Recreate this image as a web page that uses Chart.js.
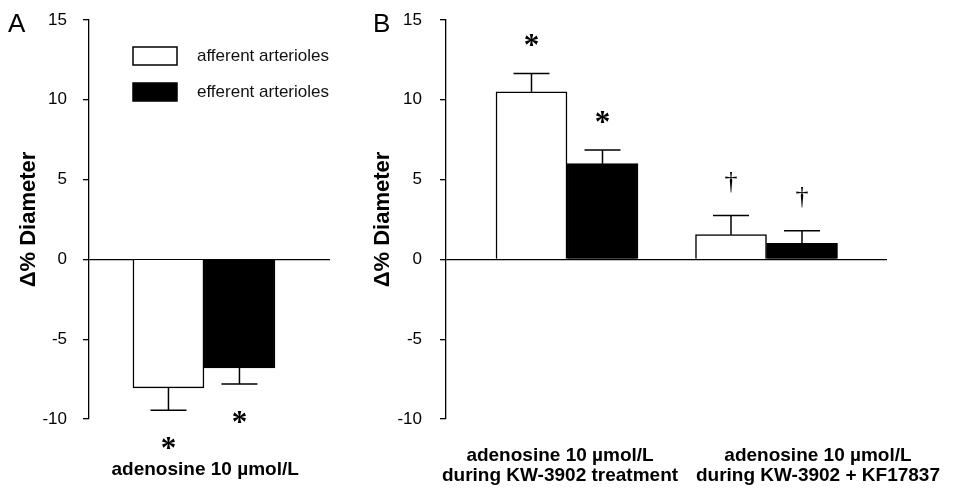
<!DOCTYPE html>
<html>
<head>
<meta charset="utf-8">
<script src="https://cdn.jsdelivr.net/npm/chart.js@4.4.1/dist/chart.umd.min.js"></script>
<style>
  html, body { margin: 0; padding: 0; background: #fff; }
  #wrap { position: relative; width: 959px; height: 489px; overflow: hidden; }
  canvas { position: absolute; top: 0; }
  .panel { position: absolute; top: 10px; font: 26px "Liberation Sans", Arial, sans-serif; line-height: 26px; color: #000; }
</style>
</head>
<body>
<div id="wrap">
  <canvas id="chart-a" width="340" height="489" style="left:0"></canvas>
  <canvas id="chart-b" width="619" height="489" style="left:340px"></canvas>
  <div class="panel" style="left:8px">A</div>
  <div class="panel" style="left:373px">B</div>
</div>
<script>
"use strict";

// Data
var seriesNames = ["afferent arterioles", "efferent arterioles"];
var categoriesA = ["adenosine 10 µmol/L"];
var categoriesB = [
  ["adenosine 10 µmol/L", "during KW-3902 treatment"],
  ["adenosine 10 µmol/L", "during KW-3902 + KF17837"]
];
var afferentA = [-8.05];
var afferentErrA = [1.4];
var efferentA = [-6.8];
var efferentErrA = [1.0];
var afferentB = [10.5, 1.55];
var afferentErrB = [1.15, 1.2];
var efferentB = [6.0, 1.0];
var efferentErrB = [0.85, 0.8];
var marksAfferentA = ["*"];
var marksEfferentA = ["*"];
var marksAfferentB = ["*", "\u2020"];
var marksEfferentB = ["*", "\u2020"];
var yMin = -10, yMax = 15, yStep = 5;
var yTitle = "\u0394% Diameter";

var SANS = '"Liberation Sans", Arial, Helvetica, sans-serif';
var SERIF = '"Liberation Serif", "Times New Roman", serif';

function points(values){
  return values.map(function(v, i){ return {x: i, y: v}; });
}

// error bars + significance marks
var errorBarPlugin = {
  id: "errorBars",
  afterDatasetsDraw: function(chart){
    var ctx = chart.ctx;
    var yScale = chart.scales.y;
    ctx.save();
    chart.data.datasets.forEach(function(ds, d){
      var meta = chart.getDatasetMeta(d);
      meta.data.forEach(function(bar, i){
        var v = ds.data[i].y;
        var dir = v < 0 ? -1 : 1;
        var yEnd = yScale.getPixelForValue(v + dir * ds.errors[i]);
        ctx.strokeStyle = "#000";
        ctx.lineWidth = 1.5;
        ctx.beginPath();
        ctx.moveTo(bar.x, bar.y);
        ctx.lineTo(bar.x, yEnd);
        ctx.moveTo(bar.x - 18, yEnd);
        ctx.lineTo(bar.x + 18, yEnd);
        ctx.stroke();

        var mark = ds.marks[i];
        if (!mark) return;
        ctx.fillStyle = "#000";
        ctx.textAlign = "center";
        ctx.textBaseline = "alphabetic";
        ctx.font = mark === "*" ? "bold 31px " + SERIF : "26px " + SERIF;
        var m = ctx.measureText(mark);
        var cy = yEnd - dir * 33;
        ctx.fillText(mark, bar.x, cy + (m.actualBoundingBoxAscent - m.actualBoundingBoxDescent) / 2);
      });
    });
    ctx.restore();
  }
};

// legend boxes drawn inside panel A
var boxLegendPlugin = {
  id: "boxLegend",
  afterDraw: function(chart, args, opts){
    if (!opts.show) return;
    var ctx = chart.ctx;
    var area = chart.chartArea;
    ctx.save();
    chart.data.datasets.forEach(function(ds, i){
      var x = area.left + 44;
      var y = area.top + 27 + i * 36;
      ctx.fillStyle = ds.backgroundColor;
      ctx.fillRect(x, y, 44, 18);
      ctx.strokeStyle = "#000";
      ctx.lineWidth = 1.5;
      ctx.strokeRect(x, y, 44, 18);
      ctx.fillStyle = "#111";
      ctx.font = "17px " + SANS;
      ctx.textAlign = "left";
      ctx.textBaseline = "middle";
      ctx.fillText(ds.label, x + 64, y + 9);
    });
    ctx.restore();
  }
};

function barChart(id, p){
  var ctx = document.getElementById(id);
  return new Chart(ctx, {
    type: "bar",
    data: {
      datasets: [{
        label: seriesNames[0],
        data: points(p.afferent),
        errors: p.afferentErr,
        marks: p.afferentMarks,
        backgroundColor: "#fff",
        borderColor: "#000",
        borderWidth: 1.5
      }, {
        label: seriesNames[1],
        data: points(p.efferent),
        errors: p.efferentErr,
        marks: p.efferentMarks,
        backgroundColor: "#000",
        borderColor: "#000",
        borderWidth: 1.5
      }]
    },
    options: {
      responsive: false,
      animation: false,
      barThickness: 71,
      layout: { padding: { top: 20, right: p.padRight, bottom: 0, left: 0 } },
      plugins: {
        legend: { display: false },
        tooltip: { enabled: false },
        boxLegend: { show: p.legend }
      },
      scales: {
        x: {
          type: "linear",
          min: p.xMin,
          max: p.xMax,
          offset: false,
          grid: { display: false, drawTicks: false },
          border: { display: false },
          afterBuildTicks: function(scale){
            scale.ticks = p.labelAt.map(function(v){ return {value: v}; });
          },
          afterFit: function(scale){
            scale.height = 70;
            scale.paddingLeft = 0;
            scale.paddingRight = 0;
          },
          ticks: {
            autoSkip: false,
            maxRotation: 0,
            padding: p.labelPad,
            color: "#000",
            font: { family: SANS, size: 19, weight: "bold", lineHeight: 1.05 },
            callback: function(value, index){ return p.categories[index]; }
          }
        },
        y: {
          min: yMin,
          max: yMax,
          afterFit: function(scale){
            scale.width = p.axisLeft;
            scale.paddingTop = 0;
            scale.paddingBottom = 0;
          },
          border: { display: true, color: "#000", width: 1.3 },
          grid: {
            color: function(c){ return c.tick && c.tick.value === 0 ? "#000" : "rgba(0,0,0,0)"; },
            lineWidth: 1.3,
            tickColor: "#000",
            tickLength: 6
          },
          ticks: {
            stepSize: yStep,
            padding: p.tickPad,
            color: "#000",
            font: { family: SANS, size: 17 }
          },
          title: {
            display: true,
            text: yTitle,
            color: "#000",
            font: { family: SANS, size: 22, weight: "bold" },
            padding: { top: p.titlePad, bottom: 0 }
          }
        }
      }
    },
    plugins: [errorBarPlugin, boxLegendPlugin]
  });
}

barChart("chart-a", {
  categories: categoriesA,
  afferent: afferentA, afferentErr: afferentErrA, afferentMarks: marksAfferentA,
  efferent: efferentA, efferentErr: efferentErrA, efferentMarks: marksEfferentA,
  xMin: -0.477, xMax: 0.523, labelAt: [0.005],
  axisLeft: 89, padRight: 10, tickPad: 16, titlePad: 16, labelPad: 41,
  legend: true
});

barChart("chart-b", {
  categories: categoriesB,
  afferent: afferentB, afferentErr: afferentErrB, afferentMarks: marksAfferentB,
  efferent: efferentB, efferentErr: efferentErrB, efferentMarks: marksEfferentB,
  xMin: -0.6065, xMax: 1.604, labelAt: [-0.035, 1.258],
  axisLeft: 106, padRight: 72, tickPad: 18, titlePad: 30, labelPad: 27,
  legend: false
});
</script>
</body>
</html>
